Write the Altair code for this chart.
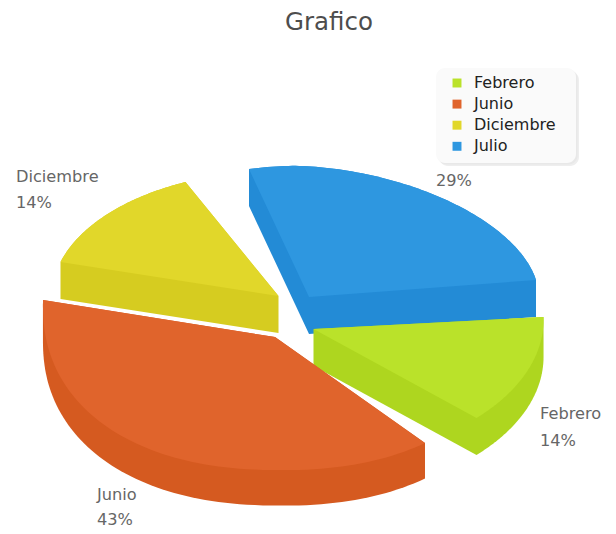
import math
import altair as alt

# --- chart values
title_text = "Grafico"
months = ["Febrero", "Junio", "Diciembre", "Julio"]
values = [1, 3, 1, 2]
top_colors = ["#bae22a", "#e0642c", "#e1d72a", "#2e97e0"]
wall_colors = ["#aed61f", "#d55a20", "#d6cc20", "#238bd6"]

# --- drawing model of the tilted, pulled-out slices (page pixels)
origin = (8, 46)
paint_order = ["Julio", "Diciembre", "Febrero", "Junio"]
slice_model = {
    # apex, arc start and end relative to apex, ellipse centre offset, radii, exponent, wall depth
    "Febrero": dict(apex=(313.5, 329), a=(230, -12), b=(163, 89), c=(0, -12), r=(232, 140), n=2.0, d=37),
    "Junio": dict(apex=(275, 337), a=(150, 106), b=(-232, -37), c=(0, -37), r=(232, 165), n=2.25, d=35.5),
    "Diciembre": dict(apex=(278.5, 296), a=(-218, -34), b=(-93, -114), c=(0, 0), r=(225, 125), n=2.0, d=37),
    "Julio": dict(apex=(309, 297), a=(-60, -128), b=(227, -17), c=(-15, -3), r=(245, 127), n=1.8, d=37),
}
label_anchor = {
    "Febrero": (540, 414, 441, True),
    "Junio": (97, 495, 520, True),
    "Diciembre": (16, 177, 203, True),
    "Julio": (436, 155, 181, False),
}


def spow(v, p):
    return math.copysign(abs(v) ** p, v)


def outline(m, steps=80):
    ax, ay = m["apex"]
    cx, cy = m["c"]
    rx, ry = m["r"]
    n = m["n"]

    def param(pt):
        x, y = (pt[0] - cx) / rx, (pt[1] - cy) / ry
        k = (abs(x) ** n + abs(y) ** n) ** (1 / n)
        return math.atan2(spow(y / k, n / 2), spow(x / k, n / 2)), k

    t0, k0 = param(m["a"])
    t1, k1 = param(m["b"])
    if t1 < t0:
        t1 += 2 * math.pi
    pts = [(ax, ay)]
    for i in range(steps + 1):
        f = i / steps
        t = t0 + (t1 - t0) * f
        k = k0 + (k1 - k0) * f
        pts.append((ax + cx + k * rx * spow(math.cos(t), 2 / n),
                    ay + cy + k * ry * spow(math.sin(t), 2 / n)))
    return pts


def hull(points):
    pts = sorted(set(points))

    def half(seq):
        out = []
        for p in seq:
            while len(out) >= 2 and ((out[-1][0] - out[-2][0]) * (p[1] - out[-2][1])
                                     - (out[-1][1] - out[-2][1]) * (p[0] - out[-2][0])) <= 0:
                out.pop()
            out.append(p)
        return out[:-1]

    return half(pts) + half(pts[::-1])


def feature(key, pts):
    ring = [[round(x - origin[0], 2), round(y - origin[1], 2)] for x, y in pts]
    ring.append(ring[0])
    return {"type": "Feature", "properties": {"key": key},
            "geometry": {"type": "Polygon", "coordinates": [ring]}}


features = []
for name in paint_order:
    m = slice_model[name]
    top = outline(m)
    wall = hull(top + [(x, y + m["d"]) for x, y in top])
    features.append(feature(name + " lado", wall))
    features.append(feature(name, top))

domain = months + [m + " lado" for m in months]
colors = top_colors + wall_colors

total = sum(values)
label_rows = []
for name, v in zip(months, values):
    x, y1, y2, show_name = label_anchor[name]
    if show_name:
        label_rows.append({"lon": x - origin[0], "lat": y1 - origin[1], "t": name})
    label_rows.append({"lon": x - origin[0], "lat": y2 - origin[1], "t": f"{round(100 * v / total)}%"})

box_w, box_h = (436, 68), (576, 163)


def box(shift, color):
    return alt.Chart(alt.Data(values=[{"a": 1}])).mark_rect(
        cornerRadius=9, color=color
    ).encode(
        x=alt.value(box_w[0] - origin[0] + shift), x2=alt.value(box_h[0] - origin[0] + shift),
        y=alt.value(box_w[1] - origin[1] + shift), y2=alt.value(box_h[1] - origin[1] + shift),
    )


shapes = alt.Chart(alt.Data(values=features)).mark_geoshape().encode(
    color=alt.Color(
        "properties.key:N",
        scale=alt.Scale(domain=domain, range=colors),
        legend=alt.Legend(
            values=months, title=None, orient="none", legendX=449 - origin[0], legendY=75 - origin[1],
            symbolType="square", symbolSize=80, labelFont="DejaVu Sans", labelFontSize=16,
            labelColor="#222222", rowPadding=5.1, labelOffset=9, zindex=1, symbolStrokeWidth=0,
        ),
    )
).project(type="identity", scale=1, translate=[0, 0])

labels = alt.Chart(alt.Data(values=label_rows)).mark_text(
    align="left", baseline="middle", font="DejaVu Sans", fontSize=16.2, color="#666666"
).encode(longitude="lon:Q", latitude="lat:Q", text="t:N").project(type="identity", scale=1, translate=[0, 0])

chart = alt.layer(box(3, "#eeeeee"), box(1.5, "#e8e8e8"), box(0, "#fafafa"), shapes, labels).properties(
    width=600,
    height=486,
    padding={"left": 0, "top": 38, "right": 0, "bottom": 0},
    autosize=alt.AutoSizeParams(type="none"),
    title=alt.TitleParams(
        title_text, font="DejaVu Sans", fontSize=24.5, fontWeight="normal", color="#4d4d4d",
        anchor="middle", dx=21, offset=11,
    ),
).configure_view(stroke=None)

chart.save("out.html", embed_options={"renderer": "svg", "actions": False})
